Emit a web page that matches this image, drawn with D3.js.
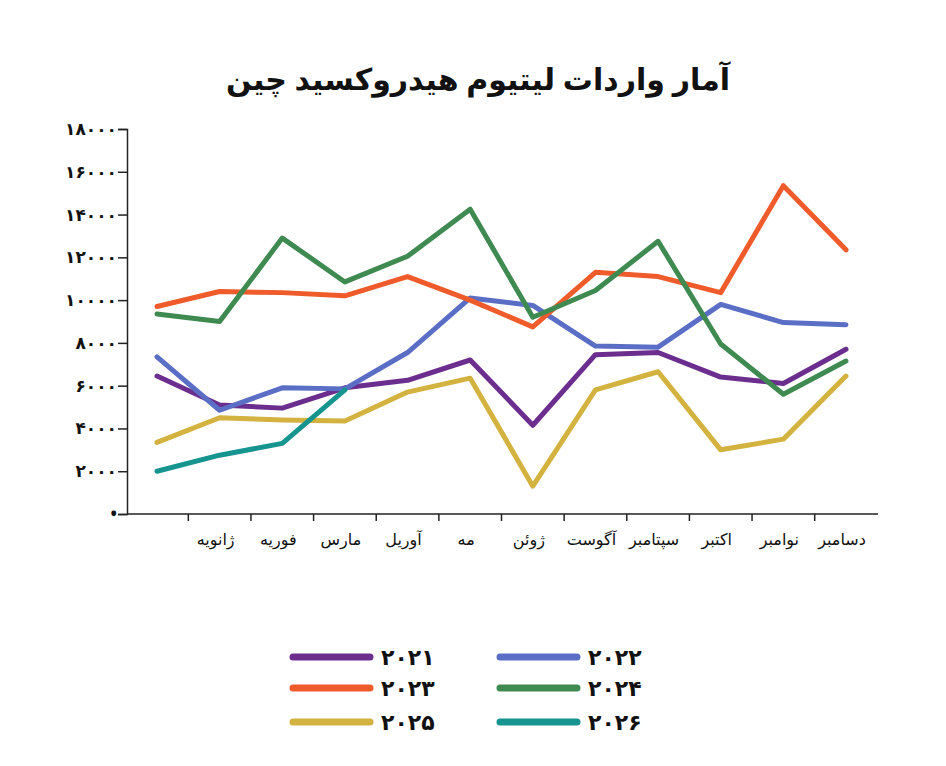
<!DOCTYPE html>
<html><head><meta charset="utf-8">
<script src="https://cdn.jsdelivr.net/npm/d3@7"></script>
<style>body{margin:0;background:#fff}</style></head>
<body><svg id="c" width="946" height="766"></svg>
<script>
const title = "آمار واردات لیتیوم هیدروکسید چین";
const months = ["", "ژانویه","فوریه","مارس","آوریل","مه","ژوئن","آگوست","سپتامبر","اکتبر","نوامبر","دسامبر"];
const yTicks = [0,2000,4000,6000,8000,10000,12000,14000,16000,18000];
const s2021 = [6450,5100,4950,5900,6250,7200,4150,7450,7550,6400,6100,7700];
const s2022 = [7350,4850,5900,5850,7550,10100,9750,7850,7800,9800,8950,8850];
const s2023 = [9700,10400,10350,10200,11100,10000,8750,11300,11100,10350,15350,12350];
const s2024 = [9350,9000,12900,10850,12050,14250,9200,10450,12750,7950,5600,7150];
const s2025 = [3350,4500,4400,4350,5700,6350,1300,5800,6650,3000,3500,6450];
const s2026 = [2000,2750,3300,5800];
const seriesNames = ["۲۰۲۱","۲۰۲۲","۲۰۲۳","۲۰۲۴","۲۰۲۵","۲۰۲۶"];
const colors = ["#6b2e8e","#5b6ec6","#ef5b2b","#3f8a50","#d3b240","#16948f"];
const allSeries = [s2021,s2022,s2023,s2024,s2025,s2026];

const fa = n => String(n).replace(/\d/g, d => "۰۱۲۳۴۵۶۷۸۹"[d]);
const svg = d3.select("#c");
const font = "'Noto Sans', 'DejaVu Sans', sans-serif";

svg.append("text").attr("x",478).attr("y",90).attr("text-anchor","middle")
  .attr("font-family",font).attr("font-weight","900").attr("font-size",30).attr("fill","#111")
  .attr("direction","rtl").text(title);

const x = d3.scalePoint().domain(d3.range(12)).range([157,846]);
const y = d3.scaleLinear().domain([0,18000]).range([514,129]);

// y axis
const ya = svg.append("g").attr("transform","translate(127,0)")
  .call(d3.axisLeft(y).tickValues(yTicks).tickSize(9).tickFormat(d => d===0 ? "•" : fa(d)));
ya.selectAll("path,line").attr("stroke","#222").attr("stroke-width",1.5);
ya.selectAll("text").attr("font-family",font).attr("font-weight","bold").attr("font-size",17).attr("fill","#111").attr("x",-10);

// x axis
const step = x.step();
svg.append("line").attr("x1",127).attr("x2",878).attr("y1",514).attr("y2",514).attr("stroke","#222").attr("stroke-width",1.5);
d3.range(11).forEach(i=>{
  const tx = x(i)+step/2;
  svg.append("line").attr("x1",tx).attr("x2",tx).attr("y1",514).attr("y2",521).attr("stroke","#222").attr("stroke-width",1.5);
});
months.forEach((m,i)=>{
  if(!m) return;
  svg.append("text").attr("x",x(i)-4).attr("y",545).attr("text-anchor","middle")
    .attr("font-family",font).attr("font-size",16).attr("fill","#111").text(m);
});

const line = d3.line().x((d,i)=>x(i)).y(d=>y(d));
allSeries.forEach((s,k)=>{
  svg.append("path").datum(s).attr("d",line).attr("fill","none")
    .attr("stroke",colors[k]).attr("stroke-width",5).attr("stroke-linejoin","round").attr("stroke-linecap","round");
});

// legend
const lx = [293,500], ly=[657,688,722];
seriesNames.forEach((n,k)=>{
  const cx = lx[k%2], cy = ly[Math.floor(k/2)];
  svg.append("line").attr("x1",cx).attr("x2",cx+77).attr("y1",cy).attr("y2",cy)
    .attr("stroke",colors[k]).attr("stroke-width",7).attr("stroke-linecap","round");
  svg.append("text").attr("x",cx+88).attr("y",cy+8).attr("font-family",font).attr("font-weight","900")
    .attr("font-size",22).attr("fill","#111").text(n);
});
</script></body></html>
